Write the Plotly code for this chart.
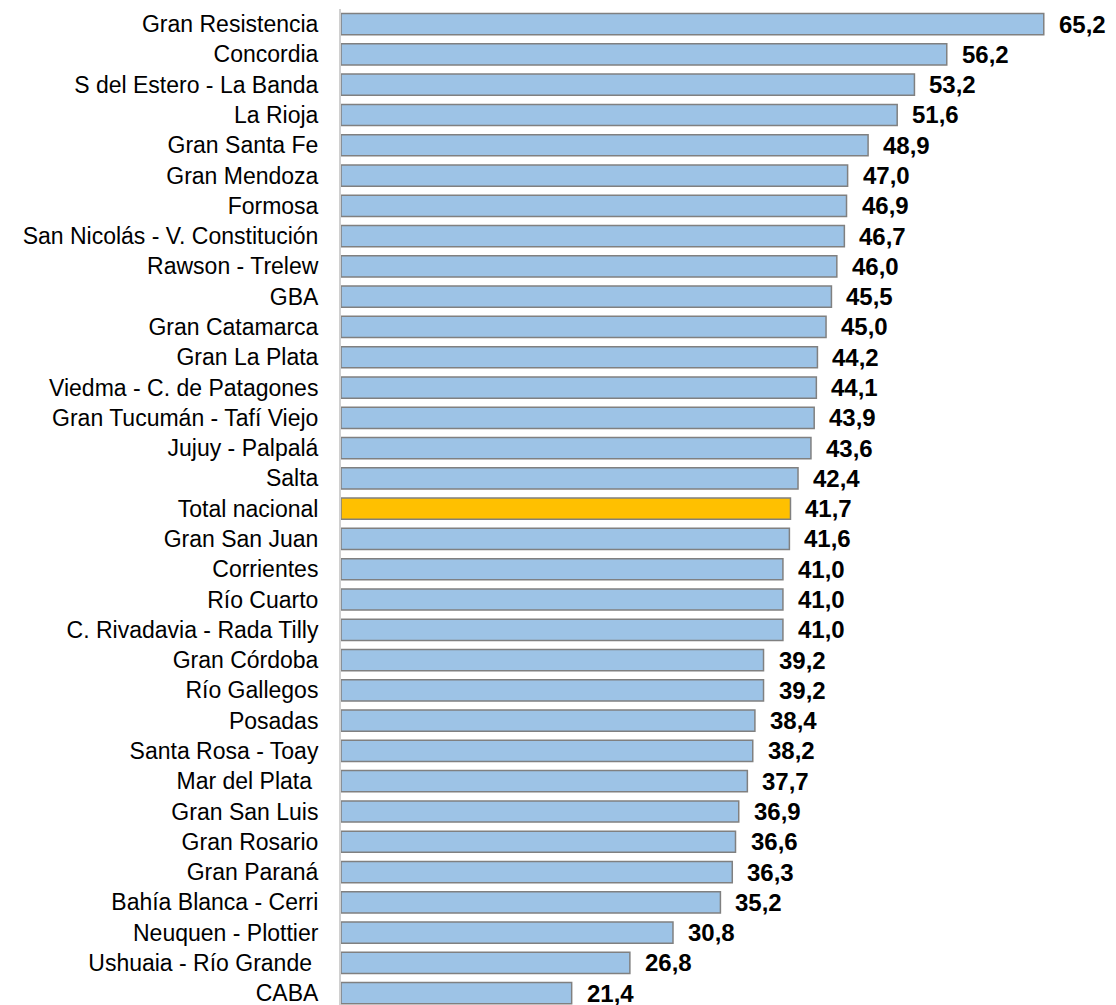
import plotly.graph_objects as go

categories = [
    "Gran Resistencia", "Concordia", "S del Estero - La Banda", "La Rioja",
    "Gran Santa Fe", "Gran Mendoza", "Formosa", "San Nicolás - V. Constitución",
    "Rawson - Trelew", "GBA", "Gran Catamarca", "Gran La Plata",
    "Viedma - C. de Patagones", "Gran Tucumán - Tafí Viejo", "Jujuy - Palpalá",
    "Salta", "Total nacional", "Gran San Juan", "Corrientes", "Río Cuarto",
    "C. Rivadavia - Rada Tilly", "Gran Córdoba", "Río Gallegos", "Posadas",
    "Santa Rosa - Toay", "Mar del Plata ", "Gran San Luis", "Gran Rosario",
    "Gran Paraná", "Bahía Blanca - Cerri", "Neuquen - Plottier",
    "Ushuaia - Río Grande ", "CABA",
]
values = [
    65.2, 56.2, 53.2, 51.6, 48.9, 47.0, 46.9, 46.7, 46.0, 45.5, 45.0, 44.2,
    44.1, 43.9, 43.6, 42.4, 41.7, 41.6, 41.0, 41.0, 41.0, 39.2, 39.2, 38.4,
    38.2, 37.7, 36.9, 36.6, 36.3, 35.2, 30.8, 26.8, 21.4,
]
highlight = "Total nacional"

bar_color = "#9DC3E6"
hl_color = "#FFC000"
colors = [hl_color if c == highlight else bar_color for c in categories]
labels = [f"{v:.1f}".replace(".", ",") for v in values]

fig = go.Figure()
fig.add_trace(go.Bar(
    x=values, y=categories, orientation="h",
    marker=dict(color=colors, line=dict(color="#808080", width=1.5)),
    width=0.7, hoverinfo="x+y",
))

for c, v, t in zip(categories, values, labels):
    fig.add_annotation(
        x=v, y=c, text=f"<b>{t}</b>", showarrow=False,
        xanchor="left", yanchor="middle", xshift=13,
        font=dict(family="Liberation Sans, Arial, sans-serif", size=24, color="#000000"),
    )

fig.update_layout(
    width=1108, height=997,
    margin=dict(l=333, r=0, t=1, b=0),
    paper_bgcolor="white", plot_bgcolor="white",
    showlegend=False,
    font=dict(family="Liberation Sans, Arial, sans-serif", size=23, color="#000000"),
)
fig.update_xaxes(range=[0, 71.9], visible=False, showgrid=False, zeroline=False)
fig.update_yaxes(
    type="category", range=[32.39, -0.5],
    showline=True, linecolor="#D0D0D0", linewidth=2,
    showgrid=False, zeroline=False, ticks="", ticklabelstandoff=16,
    tickfont=dict(size=23),
)

fig.write_html("out.html")
